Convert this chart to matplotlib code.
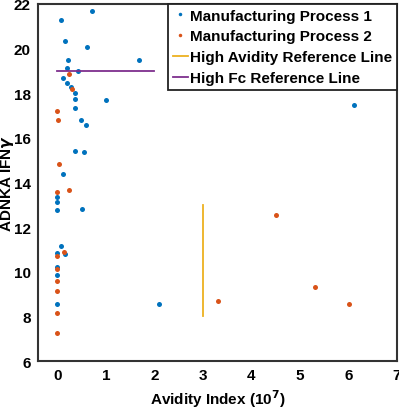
import matplotlib
matplotlib.use("Agg")
import matplotlib.pyplot as plt

plt.rcParams['font.family'] = ['Liberation Sans', 'DejaVu Sans']
plt.rcParams['font.weight'] = 'bold'

# Manufacturing Process 1
p1_x = [0.72, 0.07, 0.15, 0.61, 0.23, 1.68, 0.20, 0.42, 0.11, 0.20, 0.28, 0.36,
        0.36, 1.00, 0.36, 0.49, 0.59, 0.36, 0.56, 0.11, 0.0, 0.0, 0.0, 0.50,
        0.07, 0.0, 0.16, 0.0, 0.0, 0.0, 2.10, 6.12]
p1_y = [21.67, 21.28, 20.33, 20.09, 19.49, 19.49, 19.13, 19.0, 18.68, 18.45, 18.3, 18.03,
        17.75, 17.7, 17.34, 16.79, 16.58, 15.39, 15.35, 14.36, 13.36, 13.12, 12.77, 12.81,
        11.17, 10.84, 10.78, 10.2, 9.86, 8.56, 8.55, 17.45]

# Manufacturing Process 2
p2_x = [0.24, 0.31, 0.0, 0.01, 0.04, 0.0, 0.25, 0.14, 0.0, 0.0, 0.0, 0.0, 0.0, 0.0,
        3.31, 4.50, 5.30, 6.01]
p2_y = [18.85, 18.2, 17.19, 16.79, 14.81, 13.56, 13.66, 10.87, 10.71, 10.14, 9.58, 9.15, 8.13, 7.26,
        8.69, 12.55, 9.33, 8.56]

# reference lines
avidity_x = [3, 3]
avidity_y = [8, 13]
fc_x = [0, 2]
fc_y = [19, 19]

fig = plt.figure(figsize=(3.99, 4.10), dpi=100)
ax = fig.add_axes([0.095, 0.117, 0.9, 0.871])

ax.plot(p1_x, p1_y, 'o', color='#0072BD', markersize=3.6, markeredgewidth=0,
        label='Manufacturing Process 1')
ax.plot(p2_x, p2_y, 'o', color='#D95319', markersize=3.6, markeredgewidth=0,
        label='Manufacturing Process 2')
ax.plot(avidity_x, avidity_y, color='#EDB120', lw=1.3, label='High Avidity Reference Line')
ax.plot(fc_x, fc_y, color='#7E2F8E', lw=1.3, label='High Fc Reference Line')

ax.set_xlim(-0.4, 7)
ax.set_ylim(6, 22)
ax.set_xticks(range(0, 8))
ax.set_yticks(range(6, 23, 2))
ax.tick_params(length=0, labelsize=11, pad=5)
for lab in ax.get_xticklabels() + ax.get_yticklabels():
    lab.set_fontweight('bold')
for s in ax.spines.values():
    s.set_linewidth(1.5)
    s.set_color('#333333')

ax.set_xlabel('Avidity Index (10$^7$)', fontsize=11, fontweight='bold', labelpad=4)
ax.set_ylabel('ADNKA IFN$\\gamma$', fontsize=11, fontweight='bold')
ax.yaxis.set_label_coords(-0.062, 0.5)

leg = ax.legend(loc='upper right', bbox_to_anchor=(1, 1), borderaxespad=0,
                fontsize=11, handlelength=1.0, handletextpad=0.15, labelspacing=0.45,
                borderpad=0.3, markerscale=0.7, fancybox=False, framealpha=1)
leg.get_frame().set_edgecolor('#222222')
leg.get_frame().set_linewidth(1.3)
for t in leg.get_texts():
    t.set_fontweight('bold')

fig.savefig('out.png', dpi=100)
